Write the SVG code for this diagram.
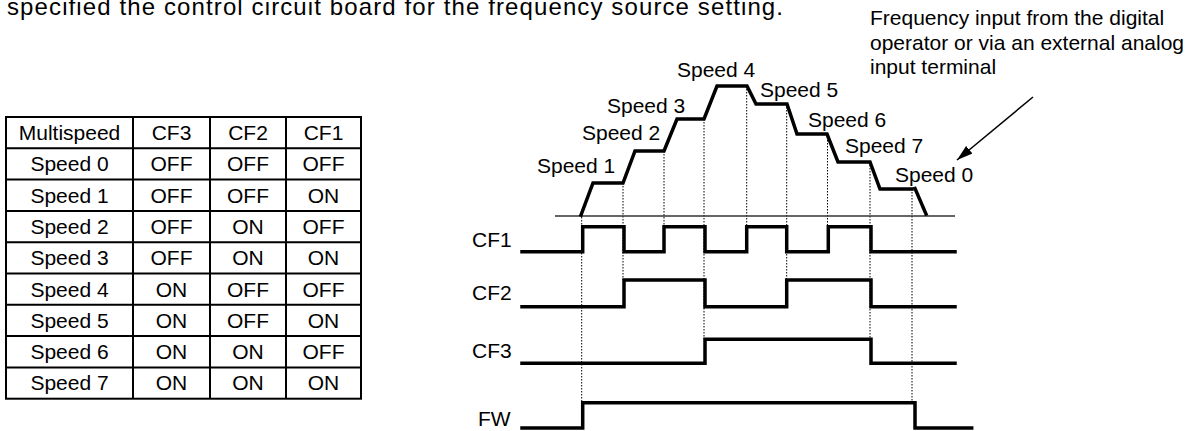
<svg xmlns="http://www.w3.org/2000/svg" width="1194" height="431" viewBox="0 0 1194 431">
<style>
text{font-family:"Liberation Sans",Arial,sans-serif;font-size:21px;fill:#000}
.c{text-anchor:middle}
.top{font-size:24px}
.grid{stroke:#000;stroke-width:2;fill:none}
.sig{stroke:#000;stroke-width:3.5;fill:none;stroke-linejoin:miter;stroke-linecap:square}
.zero{stroke:#333;stroke-width:1.5;fill:none}
.dot{stroke:#000;stroke-width:1;stroke-dasharray:1.5 1.5;fill:none}
</style>
<defs>
<marker id="ah2" viewBox="0 0 16 10" refX="16" refY="5" markerWidth="16" markerHeight="10" markerUnits="userSpaceOnUse" orient="auto"><path d="M0,0 L16,5 L0,10 z" fill="#000"/></marker>
</defs>
<text class="top" x="7" y="15" textLength="776" lengthAdjust="spacing">specified the control circuit board for the frequency source setting.</text>

<g id="table">
<rect class="grid" x="6" y="117" width="355" height="281.7"/>
<g class="grid">
<line x1="133" y1="117" x2="133" y2="398.7"/>
<line x1="210" y1="117" x2="210" y2="398.7"/>
<line x1="286" y1="117" x2="286" y2="398.7"/>
<line x1="6" y1="148.3" x2="361" y2="148.3"/>
<line x1="6" y1="179.6" x2="361" y2="179.6"/>
<line x1="6" y1="210.9" x2="361" y2="210.9"/>
<line x1="6" y1="242.2" x2="361" y2="242.2"/>
<line x1="6" y1="273.5" x2="361" y2="273.5"/>
<line x1="6" y1="304.8" x2="361" y2="304.8"/>
<line x1="6" y1="336.1" x2="361" y2="336.1"/>
<line x1="6" y1="367.4" x2="361" y2="367.4"/>
</g>
<g class="c">
<text x="69.5" y="140">Multispeed</text><text x="171.5" y="140">CF3</text><text x="248" y="140">CF2</text><text x="323.5" y="140">CF1</text>
<text x="69.5" y="171.3">Speed 0</text><text x="171.5" y="171.3">OFF</text><text x="248" y="171.3">OFF</text><text x="323.5" y="171.3">OFF</text>
<text x="69.5" y="202.6">Speed 1</text><text x="171.5" y="202.6">OFF</text><text x="248" y="202.6">OFF</text><text x="323.5" y="202.6">ON</text>
<text x="69.5" y="233.9">Speed 2</text><text x="171.5" y="233.9">OFF</text><text x="248" y="233.9">ON</text><text x="323.5" y="233.9">OFF</text>
<text x="69.5" y="265.2">Speed 3</text><text x="171.5" y="265.2">OFF</text><text x="248" y="265.2">ON</text><text x="323.5" y="265.2">ON</text>
<text x="69.5" y="296.5">Speed 4</text><text x="171.5" y="296.5">ON</text><text x="248" y="296.5">OFF</text><text x="323.5" y="296.5">OFF</text>
<text x="69.5" y="327.8">Speed 5</text><text x="171.5" y="327.8">ON</text><text x="248" y="327.8">OFF</text><text x="323.5" y="327.8">ON</text>
<text x="69.5" y="359.1">Speed 6</text><text x="171.5" y="359.1">ON</text><text x="248" y="359.1">ON</text><text x="323.5" y="359.1">OFF</text>
<text x="69.5" y="390.4">Speed 7</text><text x="171.5" y="390.4">ON</text><text x="248" y="390.4">ON</text><text x="323.5" y="390.4">ON</text>
</g>
</g>

<g id="guides">
<line class="dot" x1="581.7" y1="214" x2="581.7" y2="403"/>
<line class="dot" x1="623" y1="183" x2="623" y2="280"/>
<line class="dot" x1="664" y1="151" x2="664" y2="227"/>
<line class="dot" x1="704" y1="119" x2="704" y2="339"/>
<line class="dot" x1="746.7" y1="86" x2="746.7" y2="227"/>
<line class="dot" x1="786.7" y1="104" x2="786.7" y2="280"/>
<line class="dot" x1="827.5" y1="134" x2="827.5" y2="227"/>
<line class="dot" x1="870" y1="162" x2="870" y2="339"/>
<line class="dot" x1="912" y1="189" x2="912" y2="403"/>
</g>

<g id="speed-profile">
<line class="zero" x1="555" y1="216" x2="955" y2="216"/>
<polyline class="sig" stroke-linecap="butt" points="581,215 593,183 623,183 635,151 664,151 677,119 704,119 717,86 747,86 756,104 787,104 797,134 827,134 838,162 870,162 880,189 912,189"/>
<line class="sig" stroke-linecap="butt" x1="915" y1="188.5" x2="926" y2="214"/>
<text x="537" y="173">Speed 1</text>
<text x="582" y="140">Speed 2</text>
<text x="607" y="113">Speed 3</text>
<text x="677" y="77">Speed 4</text>
<text x="760" y="97">Speed 5</text>
<text x="808" y="127">Speed 6</text>
<text x="845" y="153">Speed 7</text>
<text x="895" y="182">Speed 0</text>
</g>

<g id="note">
<text x="870" y="25">Frequency input from the digital</text>
<text x="870" y="50">operator or via an external analog</text>
<text x="870" y="74">input terminal</text>
</g>

<g id="connectors">
<line x1="1033" y1="97" x2="957" y2="160" stroke="#000" stroke-width="1.5" marker-end="url(#ah2)"/>
</g>

<g id="CF1">
<text x="472" y="247">CF1</text>
<polyline class="sig" points="522,251.7 582.7,251.7 582.7,226.7 624,226.7 624,251.7 664,251.7 664,226.7 705,226.7 705,251.7 746.7,251.7 746.7,226.7 786.7,226.7 786.7,251.7 828.3,251.7 828.3,226.7 871,226.7 871,251.7 955,251.7"/>
</g>
<g id="CF2">
<text x="472" y="300">CF2</text>
<polyline class="sig" points="522,306.7 624,306.7 624,280 705,280 705,306.7 786.7,306.7 786.7,280 871,280 871,306.7 955,306.7"/>
</g>
<g id="CF3">
<text x="472" y="358">CF3</text>
<polyline class="sig" points="522,363.3 705,363.3 705,339.3 871,339.3 871,363.3 955,363.3"/>
</g>
<g id="FW">
<text x="478" y="426">FW</text>
<polyline class="sig" points="522,428 582.7,428 582.7,402.7 915,402.7 915,428 971.7,428"/>
</g>
</svg>
